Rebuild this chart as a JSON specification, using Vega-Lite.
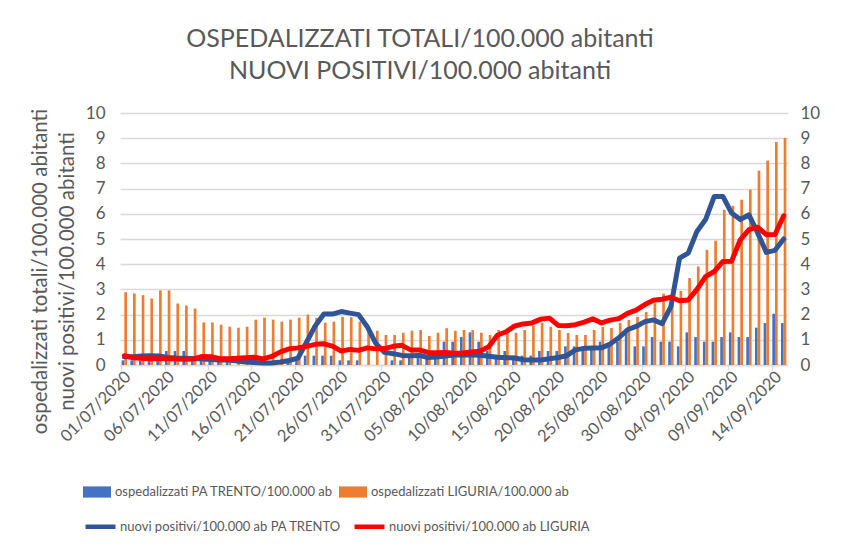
{
  "$schema": "https://vega.github.io/schema/vega-lite/v6.json",
  "autosize": "none",
  "width": 668,
  "height": 252,
  "padding": {"left": 120, "top": 113, "right": 53, "bottom": 187},
  "background": "white",
  "config": {"view": {"stroke": null}, "font": "Lato"},
  "title": {
    "text": ["OSPEDALIZZATI TOTALI/100.000 abitanti", "NUOVI POSITIVI/100.000 abitanti"],
    "fontSize": 25, "fontWeight": "normal", "color": "#595959", "font": "Lato",
    "lineHeight": 32, "offset": 20, "dx": -34, "anchor": "middle"
  },
  "data": {"values": [
    {"d":"01/07/2020","tr_h":0.185,"li_h":2.89,"tr_p":0.33,"li_p":0.37},
    {"d":"02/07/2020","tr_h":0.185,"li_h":2.84,"tr_p":0.33,"li_p":0.29},
    {"d":"03/07/2020","tr_h":0.185,"li_h":2.77,"tr_p":0.36,"li_p":0.27},
    {"d":"04/07/2020","tr_h":0.37,"li_h":2.64,"tr_p":0.37,"li_p":0.25},
    {"d":"05/07/2020","tr_h":0.185,"li_h":2.96,"tr_p":0.36,"li_p":0.25},
    {"d":"06/07/2020","tr_h":0.555,"li_h":2.96,"tr_p":0.3,"li_p":0.25},
    {"d":"07/07/2020","tr_h":0.555,"li_h":2.44,"tr_p":0.28,"li_p":0.24},
    {"d":"08/07/2020","tr_h":0.555,"li_h":2.36,"tr_p":0.27,"li_p":0.23},
    {"d":"09/07/2020","tr_h":0.185,"li_h":2.24,"tr_p":0.26,"li_p":0.24},
    {"d":"10/07/2020","tr_h":0.185,"li_h":1.69,"tr_p":0.24,"li_p":0.34},
    {"d":"11/07/2020","tr_h":0.185,"li_h":1.69,"tr_p":0.22,"li_p":0.33},
    {"d":"12/07/2020","tr_h":0.185,"li_h":1.6,"tr_p":0.2,"li_p":0.25},
    {"d":"13/07/2020","tr_h":0.185,"li_h":1.52,"tr_p":0.2,"li_p":0.25},
    {"d":"14/07/2020","tr_h":0,"li_h":1.48,"tr_p":0.16,"li_p":0.27},
    {"d":"15/07/2020","tr_h":0,"li_h":1.52,"tr_p":0.12,"li_p":0.29},
    {"d":"16/07/2020","tr_h":0.185,"li_h":1.8,"tr_p":0.1,"li_p":0.31},
    {"d":"17/07/2020","tr_h":0,"li_h":1.88,"tr_p":0.08,"li_p":0.24},
    {"d":"18/07/2020","tr_h":0,"li_h":1.8,"tr_p":0.08,"li_p":0.34},
    {"d":"19/07/2020","tr_h":0,"li_h":1.72,"tr_p":0.12,"li_p":0.52},
    {"d":"20/07/2020","tr_h":0.185,"li_h":1.8,"tr_p":0.18,"li_p":0.64},
    {"d":"21/07/2020","tr_h":0.185,"li_h":1.88,"tr_p":0.27,"li_p":0.68},
    {"d":"22/07/2020","tr_h":0.37,"li_h":2.0,"tr_p":0.9,"li_p":0.74},
    {"d":"23/07/2020","tr_h":0.37,"li_h":1.87,"tr_p":1.55,"li_p":0.82},
    {"d":"24/07/2020","tr_h":0.37,"li_h":1.68,"tr_p":2.02,"li_p":0.84},
    {"d":"25/07/2020","tr_h":0.37,"li_h":1.72,"tr_p":2.02,"li_p":0.75},
    {"d":"26/07/2020","tr_h":0.185,"li_h":1.91,"tr_p":2.12,"li_p":0.55},
    {"d":"27/07/2020","tr_h":0.185,"li_h":1.9,"tr_p":2.06,"li_p":0.62},
    {"d":"28/07/2020","tr_h":0.185,"li_h":1.72,"tr_p":2.0,"li_p":0.58},
    {"d":"29/07/2020","tr_h":0,"li_h":1.3,"tr_p":1.52,"li_p":0.68},
    {"d":"30/07/2020","tr_h":0,"li_h":1.36,"tr_p":0.85,"li_p":0.64},
    {"d":"31/07/2020","tr_h":0,"li_h":1.19,"tr_p":0.5,"li_p":0.65},
    {"d":"01/08/2020","tr_h":0.185,"li_h":1.19,"tr_p":0.45,"li_p":0.74},
    {"d":"02/08/2020","tr_h":0.185,"li_h":1.28,"tr_p":0.38,"li_p":0.78},
    {"d":"03/08/2020","tr_h":0.37,"li_h":1.36,"tr_p":0.37,"li_p":0.6},
    {"d":"04/08/2020","tr_h":0.37,"li_h":1.39,"tr_p":0.38,"li_p":0.6},
    {"d":"05/08/2020","tr_h":0.37,"li_h":1.15,"tr_p":0.3,"li_p":0.5},
    {"d":"06/08/2020","tr_h":0.37,"li_h":1.28,"tr_p":0.32,"li_p":0.49},
    {"d":"07/08/2020","tr_h":0.925,"li_h":1.46,"tr_p":0.36,"li_p":0.5},
    {"d":"08/08/2020","tr_h":0.925,"li_h":1.36,"tr_p":0.4,"li_p":0.47},
    {"d":"09/08/2020","tr_h":1.11,"li_h":1.39,"tr_p":0.4,"li_p":0.48},
    {"d":"10/08/2020","tr_h":1.295,"li_h":1.39,"tr_p":0.4,"li_p":0.52},
    {"d":"11/08/2020","tr_h":0.925,"li_h":1.28,"tr_p":0.39,"li_p":0.55},
    {"d":"12/08/2020","tr_h":0.555,"li_h":1.19,"tr_p":0.35,"li_p":0.72},
    {"d":"13/08/2020","tr_h":0.37,"li_h":1.39,"tr_p":0.31,"li_p":1.18},
    {"d":"14/08/2020","tr_h":0.555,"li_h":1.25,"tr_p":0.29,"li_p":1.32},
    {"d":"15/08/2020","tr_h":0.37,"li_h":1.28,"tr_p":0.28,"li_p":1.55},
    {"d":"16/08/2020","tr_h":0.37,"li_h":1.39,"tr_p":0.21,"li_p":1.63},
    {"d":"17/08/2020","tr_h":0.37,"li_h":1.55,"tr_p":0.2,"li_p":1.67},
    {"d":"18/08/2020","tr_h":0.555,"li_h":1.68,"tr_p":0.2,"li_p":1.82},
    {"d":"19/08/2020","tr_h":0.555,"li_h":1.52,"tr_p":0.25,"li_p":1.86},
    {"d":"20/08/2020","tr_h":0.555,"li_h":1.39,"tr_p":0.3,"li_p":1.57},
    {"d":"21/08/2020","tr_h":0.74,"li_h":1.27,"tr_p":0.37,"li_p":1.56},
    {"d":"22/08/2020","tr_h":0.74,"li_h":1.19,"tr_p":0.6,"li_p":1.6},
    {"d":"23/08/2020","tr_h":0.74,"li_h":1.19,"tr_p":0.66,"li_p":1.7},
    {"d":"24/08/2020","tr_h":0.74,"li_h":1.39,"tr_p":0.67,"li_p":1.83},
    {"d":"25/08/2020","tr_h":0.925,"li_h":1.51,"tr_p":0.68,"li_p":1.67},
    {"d":"26/08/2020","tr_h":0.74,"li_h":1.47,"tr_p":0.83,"li_p":1.78},
    {"d":"27/08/2020","tr_h":0.925,"li_h":1.67,"tr_p":1.08,"li_p":1.84},
    {"d":"28/08/2020","tr_h":1.295,"li_h":1.79,"tr_p":1.4,"li_p":2.05},
    {"d":"29/08/2020","tr_h":0.74,"li_h":1.91,"tr_p":1.53,"li_p":2.18},
    {"d":"30/08/2020","tr_h":0.74,"li_h":2.1,"tr_p":1.72,"li_p":2.4},
    {"d":"31/08/2020","tr_h":1.11,"li_h":2.45,"tr_p":1.79,"li_p":2.57},
    {"d":"01/09/2020","tr_h":0.925,"li_h":2.83,"tr_p":1.64,"li_p":2.61},
    {"d":"02/09/2020","tr_h":0.925,"li_h":2.72,"tr_p":2.32,"li_p":2.69},
    {"d":"03/09/2020","tr_h":0.74,"li_h":2.94,"tr_p":4.24,"li_p":2.55},
    {"d":"04/09/2020","tr_h":1.295,"li_h":3.45,"tr_p":4.44,"li_p":2.58},
    {"d":"05/09/2020","tr_h":1.11,"li_h":3.91,"tr_p":5.3,"li_p":3.0},
    {"d":"06/09/2020","tr_h":0.925,"li_h":4.57,"tr_p":5.77,"li_p":3.51},
    {"d":"07/09/2020","tr_h":0.925,"li_h":4.93,"tr_p":6.69,"li_p":3.71},
    {"d":"08/09/2020","tr_h":1.11,"li_h":6.16,"tr_p":6.69,"li_p":4.11},
    {"d":"09/09/2020","tr_h":1.295,"li_h":6.32,"tr_p":6.03,"li_p":4.12},
    {"d":"10/09/2020","tr_h":1.11,"li_h":6.56,"tr_p":5.77,"li_p":4.97},
    {"d":"11/09/2020","tr_h":1.11,"li_h":6.96,"tr_p":5.96,"li_p":5.37},
    {"d":"12/09/2020","tr_h":1.48,"li_h":7.71,"tr_p":5.24,"li_p":5.47},
    {"d":"13/09/2020","tr_h":1.665,"li_h":8.11,"tr_p":4.47,"li_p":5.17},
    {"d":"14/09/2020","tr_h":2.035,"li_h":8.85,"tr_p":4.55,"li_p":5.18},
    {"d":"15/09/2020","tr_h":1.665,"li_h":9.01,"tr_p":5.0,"li_p":5.92}
  ]},
  "encoding": {
    "x": {
      "field": "d", "type": "ordinal", "sort": null,
      "scale": {"paddingInner": 0.38, "paddingOuter": 0.19},
      "axis": {
        "title": null,
        "values": ["01/07/2020","06/07/2020","11/07/2020","16/07/2020","21/07/2020","26/07/2020","31/07/2020","05/08/2020","10/08/2020","15/08/2020","20/08/2020","25/08/2020","30/08/2020","04/09/2020","09/09/2020","14/09/2020"],
        "bandPosition": 0, "labelOffset": 4, "labelAngle": -45, "labelAlign": "right", "labelBaseline": "middle",
        "labelFontSize": 16.5, "labelColor": "#595959", "labelPadding": 4,
        "domainColor": "#D9D9D9", "domainWidth": 1.3, "tickColor": "#D9D9D9", "tickWidth": 1.3, "tickSize": 5,
        "grid": false
      }
    }
  },
  "layer": [
    {
      "transform": [{"fold": ["tr_h", "li_h"], "as": ["serie", "valore"]}],
      "mark": {"type": "bar"},
      "encoding": {
        "xOffset": {"field": "serie", "type": "nominal", "scale": {"domain": ["tr_h", "li_h"], "paddingInner": 0}},
        "y": {
          "field": "valore", "type": "quantitative",
          "scale": {"domain": [0, 10], "nice": false},
          "axis": {
            "orient": "left", "values": [0,1,2,3,4,5,6,7,8,9,10],
            "grid": true, "gridColor": "#D9D9D9", "gridWidth": 1.3,
            "domain": false, "ticks": false,
            "labelFontSize": 17, "labelColor": "#595959", "labelPadding": 15,
            "title": ["ospedalizzati totali/100.000 abitanti", "nuovi positivi/100.000 abitanti"],
            "titleFontSize": 20.5, "titleFontWeight": "normal", "titleColor": "#595959",
            "titleAngle": -90, "titleX": -80, "titleY": 158, "titleBaseline": "middle", "titleLineHeight": 27, "titleAlign": "center"
          }
        },
        "color": {
          "field": "serie", "type": "nominal",
          "scale": {"domain": ["tr_h", "li_h"], "range": ["#4472C4", "#ED7D31"]},
          "legend": {
            "title": null, "orient": "none", "legendX": -37, "legendY": 365, "direction": "horizontal",
            "symbolType": "M-1,-0.4H1V0.4H-1Z", "symbolSize": 784, "symbolStrokeWidth": 0,
            "labelFontSize": 13, "labelColor": "#595959", "labelLimit": 0, "columnPadding": 6, "labelOffset": 4,
            "labelExpr": "datum.value == 'tr_h' ? 'ospedalizzati PA TRENTO/100.000 ab' : 'ospedalizzati LIGURIA/100.000 ab'"
          }
        }
      }
    },
    {
      "transform": [{"fold": ["tr_p", "li_p"], "as": ["serie", "valore"]}],
      "mark": {"type": "line", "strokeWidth": 5, "strokeCap": "round", "strokeJoin": "round"},
      "encoding": {
        "y": {
          "field": "valore", "type": "quantitative",
          "scale": {"domain": [0, 10], "nice": false},
          "axis": {
            "orient": "right", "values": [0,1,2,3,4,5,6,7,8,9,10],
            "grid": false, "domain": false, "ticks": false,
            "labelFontSize": 17, "labelColor": "#595959", "labelPadding": 12, "title": null
          }
        },
        "stroke": {
          "field": "serie", "type": "nominal",
          "scale": {"domain": ["tr_p", "li_p"], "range": ["#2F5597", "#FF0000"]},
          "legend": {
            "title": null, "orient": "none", "legendX": -37, "legendY": 396, "direction": "horizontal",
            "symbolType": "stroke", "symbolSize": 900, "symbolStrokeWidth": 4.5,
            "labelFontSize": 13, "labelColor": "#595959", "labelLimit": 0, "columnPadding": 4, "labelOffset": 2,
            "labelExpr": "datum.value == 'tr_p' ? 'nuovi positivi/100.000 ab PA TRENTO' : 'nuovi positivi/100.000 ab LIGURIA'"
          }
        }
      }
    }
  ],
  "resolve": {"axis": {"y": "independent"}}
}
